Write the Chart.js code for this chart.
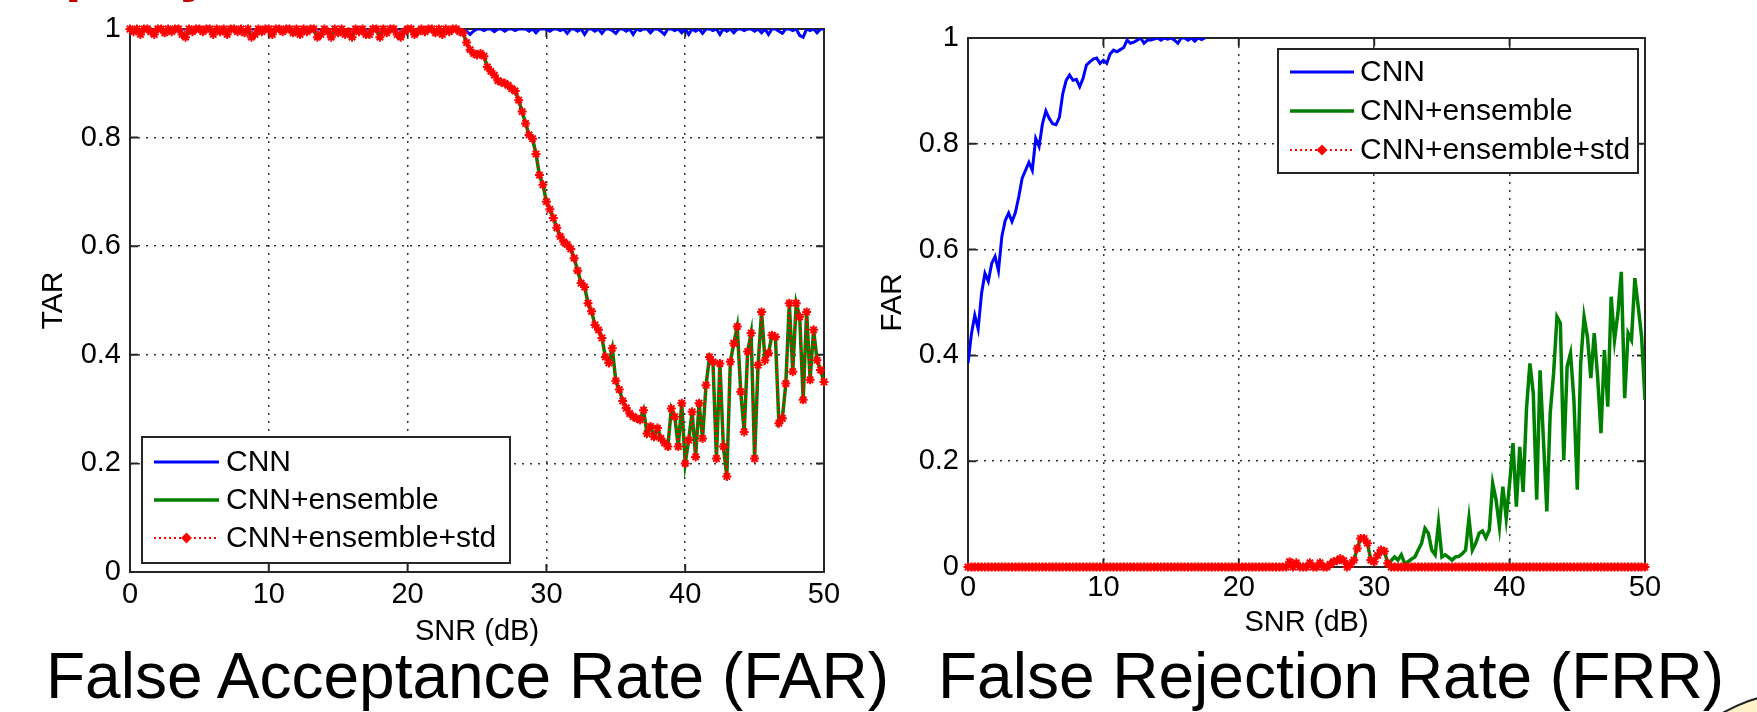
<!DOCTYPE html>
<html lang="en">
<head>
    <meta charset="UTF-8">
    <title>FAR / FRR vs SNR</title>
    <script src="https://cdn.jsdelivr.net/npm/chart.js@4.4.1/dist/chart.umd.min.js"></script>
    <style>
        html, body { margin: 0; padding: 0; background: #fff; }
        body { width: 1757px; height: 712px; overflow: hidden; position: relative; font-family: "Liberation Sans", Arial, sans-serif; }
        canvas { position: absolute; top: 0; }
        #farChart { left: 0; }
        #frrChart { left: 860px; }
        .caption { position: absolute; top: 644px; font-size: 64px; line-height: 64px; white-space: nowrap; color: #000; }
        .slide-title { position: absolute; font-size: 60px; font-weight: bold; line-height: 60px; color: #c00000; }
        .bubble { position: absolute; left: 1670px; top: 688px; width: 300px; height: 200px; border-radius: 50%; background: #fdf2c8; border: 2px solid #222; box-sizing: border-box; }
    </style>
</head>
<body>
    <span class="slide-title" style="left:65px; top:-60px;">p</span>
    <span class="slide-title" style="left:180px; top:-60px;">y</span>

    <canvas id="farChart" width="860" height="712"></canvas>
    <canvas id="frrChart" width="897" height="712"></canvas>

    <div class="caption" style="left:46px;">False Acceptance Rate (FAR)</div>
    <div class="caption" style="left:938px;">False Rejection Rate (FRR)</div>
    <div class="bubble"></div>

    <script>
        // SNR sampling grid, 0 to 50 dB in 0.25 dB steps
        const snrStep = 0.25;
        const snr = [];
        for (let i = 0; i <= 50 / snrStep; i++) snr.push(i * snrStep);

        const xTicks = [0, 10, 20, 30, 40, 50];
        const yTicks = [0, 0.2, 0.4, 0.6, 0.8, 1];
        const seriesNames = ['CNN', 'CNN+ensemble', 'CNN+ensemble+std'];

        // ---- left panel (y axis "TAR") ----
        const leftCnn = [
            1,1,1,1,1,1,1,1,1,1,1,1,1,1,1,1,1,1,1,1,
            1,1,1,1,1,1,1,1,1,1,1,1,1,1,1,1,1,1,1,1,
            1,1,1,1,1,1,1,1,1,1,1,1,1,1,1,1,1,1,1,1,
            1,1,1,1,1,1,1,1,1,1,1,1,1,1,1,1,1,1,1,1,
            1,1,1,1,1,1,1,1,1,1,1,1,1,1,1,1,
            1,0.996,0.99,0.996,
            1,1,0.997,1,1,0.995,1,1,0.996,1,1,0.997,1,1,1,0.996,1,0.993,1,1,
            1,0.996,1,1,0.997,1,0.992,1,1,0.996,1,0.99,1,1,0.996,1,0.992,1,1,0.997,
            0.992,1,1,0.996,1,0.99,1,0.997,1,1,0.993,1,1,0.996,0.99,1,1,0.997,1,0.993,
            1,0.99,1,0.996,1,0.992,1,1,0.997,1,0.99,1,0.996,1,0.993,1,1,0.997,1,1,
            0.996,1,0.993,1,0.99,1,1,0.996,0.992,1,1,0.997,1,0.988,0.985,1,0.997,1,0.993,1,1
        ];
        const leftEnsemble = [
            1,0.995,1,0.99,1,1,0.995,0.99,1,1,0.993,1,0.995,1,1,0.99,0.985,1,0.995,1,
            1,0.995,1,1,0.99,1,0.995,1,0.99,1,1,0.995,1,0.993,1,0.985,0.99,1,0.995,1,
            1,0.99,1,1,0.995,1,1,0.993,1,0.99,1,0.995,1,1,0.985,0.99,1,0.995,0.985,1,
            0.993,1,0.99,0.995,0.985,1,0.995,1,0.99,0.99,1,1,0.985,1,0.993,1,1,0.99,0.985,0.995,
            1,1,0.99,0.995,1,0.995,1,1,0.993,1,0.99,1,0.995,1,1,0.995,
            0.993,0.975,0.962,0.955,
            0.952,0.955,0.950,0.930,0.922,0.915,0.905,0.902,0.900,0.896,0.890,0.886,0.869,0.848,0.826,0.805,0.798,0.770,0.731,0.713,
            0.682,0.668,0.652,0.634,0.618,0.608,0.603,0.595,0.578,0.555,0.532,0.525,0.495,0.480,0.455,0.446,0.431,0.396,0.385,0.412,
            0.352,0.336,0.315,0.302,0.292,0.286,0.283,0.280,0.298,0.255,0.268,0.249,0.265,0.246,0.238,0.231,0.301,0.286,0.231,0.311,
            0.200,0.243,0.295,0.212,0.311,0.246,0.344,0.396,0.387,0.209,0.384,0.231,0.176,0.387,0.421,0.452,0.332,0.258,0.406,0.440,
            0.209,0.381,0.479,0.390,0.403,0.436,0.433,0.274,0.283,0.347,0.495,0.369,0.495,0.470,0.317,0.479,0.354,0.446,0.390,0.372,0.350
        ];
        // in this panel the +std curve lies exactly on the ensemble curve
        const leftEnsembleStd = leftEnsemble.slice();

        // ---- right panel (y axis "FAR") ----
        const rightCnn = [
            0.385,0.440,0.476,0.450,0.517,0.555,0.540,0.574,0.587,0.560,
            0.625,0.655,0.669,0.653,0.670,0.700,0.735,0.750,0.765,0.750,
            0.810,0.795,0.838,0.862,0.848,0.838,0.836,0.850,0.895,0.920,
            0.930,0.920,0.922,0.908,0.924,0.949,0.955,0.960,0.962,0.952,
            0.958,0.952,0.970,0.977,0.974,0.978,0.982,0.996,0.990,0.992,
            0.996,1,0.990,0.996,0.996,0.998,1,0.996,1,0.998,
            1,0.996,0.990,1,1,0.996,1,0.994,1,0.997,1
        ];
        const rightEnsemble = [
            0,0,0,0,0,0,0,0,0,0,0,0,0,0,0,0,0,0,0,0,
            0,0,0,0,0,0,0,0,0,0,0,0,0,0,0,0,0,0,0,0,
            0,0,0,0,0,0,0,0,0,0,0,0,0,0,0,0,0,0,0,0,
            0,0,0,0,0,0,0,0,0,0,0,0,0,0,0,0,0,0,0,0,
            0,0,0,0,0,0,0,0,0,0,0,0,0,0,0,
            0.010,0,0.008,0,0,
            0,0.008,0,0,0.008,0,0,0.005,0.010,0.012,0.016,0.012,0,0.005,0.013,0.035,0.054,0.054,0.045,0.013,
            0.010,0.022,0.032,0.030,0.007,0.012,0.019,0.013,0.023,0.007,0.010,0.015,0.019,0.032,0.045,0.073,0.064,0.032,0.023,0.083,
            0.019,0.023,0.018,0.013,0.019,0.020,0.025,0.032,0.092,0.032,0.045,0.064,0.068,0.055,0.070,0.158,0.127,0.076,0.152,0.092,
            0.158,0.234,0.114,0.227,0.142,0.300,0.385,0.328,0.127,0.372,0.240,0.105,0.291,0.366,0.473,0.461,0.202,0.379,0.404,0.316,
            0.146,0.385,0.473,0.435,0.357,0.442,0.360,0.253,0.410,0.303,0.511,0.429,0.480,0.558,0.319,0.442,0.429,0.546,0.492,0.435,0.316
        ];
        const rightEnsembleStd = [
            0,0,0,0,0,0,0,0,0,0,0,0,0,0,0,0,0,0,0,0,
            0,0,0,0,0,0,0,0,0,0,0,0,0,0,0,0,0,0,0,0,
            0,0,0,0,0,0,0,0,0,0,0,0,0,0,0,0,0,0,0,0,
            0,0,0,0,0,0,0,0,0,0,0,0,0,0,0,0,0,0,0,0,
            0,0,0,0,0,0,0,0,0,0,0,0,0,0,0,
            0.010,0,0.008,0,0,
            0,0.008,0,0,0.008,0,0,0.005,0.010,0.012,0.016,0.012,0,0.005,0.013,0.035,0.054,0.054,0.045,0.013,
            0.010,0.022,0.032,0.030,0.007,0,0,0,0,0,0,0,0,0,0,0,0,0,0,0,
            0,0,0,0,0,0,0,0,0,0,0,0,0,0,0,0,0,0,0,0,
            0,0,0,0,0,0,0,0,0,0,0,0,0,0,0,0,0,0,0,0,
            0,0,0,0,0,0,0,0,0,0,0,0,0,0,0,0,0,0,0,0,0
        ];

        const FONT = '"Liberation Sans", Arial, Helvetica, sans-serif';
        const AXIS_DARK = '#262626';

        // matlab style box: frame + inward ticks under the data, legend box on top
        const matlabBox = {
            id: 'matlabBox',
            beforeDatasetsDraw(chart) {
                const {ctx, chartArea: a, scales: {x, y}} = chart;
                const len = 8;
                ctx.save();
                ctx.strokeStyle = AXIS_DARK;
                ctx.lineWidth = 2;
                ctx.strokeRect(a.left, a.top, a.right - a.left, a.bottom - a.top);
                ctx.beginPath();
                x.ticks.forEach(t => {
                    const px = x.getPixelForValue(t.value);
                    ctx.moveTo(px, a.bottom); ctx.lineTo(px, a.bottom - len);
                    ctx.moveTo(px, a.top); ctx.lineTo(px, a.top + len);
                });
                y.ticks.forEach(t => {
                    const py = y.getPixelForValue(t.value);
                    ctx.moveTo(a.left, py); ctx.lineTo(a.left + len, py);
                    ctx.moveTo(a.right, py); ctx.lineTo(a.right - len, py);
                });
                ctx.stroke();
                ctx.restore();
            },
            afterDraw(chart, args, o) {
                if (!o || !o.box) return;
                const ctx = chart.ctx;
                const b = o.box;
                ctx.save();
                ctx.fillStyle = '#fff';
                ctx.fillRect(b.left, b.top, b.width, b.height);
                ctx.strokeStyle = AXIS_DARK;
                ctx.lineWidth = 2;
                ctx.strokeRect(b.left, b.top, b.width, b.height);
                ctx.font = '30px ' + FONT;
                ctx.textBaseline = 'middle';
                chart.data.datasets.forEach((ds, i) => {
                    const yy = o.rows[i];
                    ctx.save();
                    ctx.strokeStyle = ds.borderColor;
                    ctx.lineWidth = ds.borderWidth;
                    ctx.setLineDash(ds.borderDash || []);
                    ctx.beginPath();
                    ctx.moveTo(o.lineFrom, yy);
                    ctx.lineTo(o.lineTo, yy);
                    ctx.stroke();
                    ctx.restore();
                    if (ds.pointRadius) {
                        ctx.save();
                        ctx.strokeStyle = ds.pointBorderColor;
                        ctx.fillStyle = ds.pointBackgroundColor;
                        ctx.lineWidth = ds.pointBorderWidth;
                        Chart.helpers.drawPoint(ctx, {pointStyle: 'rectRot', radius: 4, rotation: 0, borderWidth: 1}, (o.lineFrom + o.lineTo) / 2, yy);
                        ctx.restore();
                    }
                    ctx.fillStyle = '#000';
                    ctx.fillText(ds.label, o.textX, yy + 1);
                });
                ctx.restore();
            }
        };

        function makeDatasets(cnn, ens, ensStd) {
            return [
                { label: seriesNames[0], data: cnn, borderColor: '#0000ff', borderWidth: 3, pointRadius: 0, order: 3 },
                { label: seriesNames[1], data: ens, borderColor: '#008000', borderWidth: 3.5, pointRadius: 0, order: 2 },
                { label: seriesNames[2], data: ensStd, borderColor: '#ff0000', borderWidth: 1.8, borderDash: [2, 3],
                  pointStyle: 'star', pointRadius: 4.5, pointBorderWidth: 2,
                  pointBorderColor: '#ff0000', pointBackgroundColor: '#ff0000', order: 1, clip: 8 }
            ];
        }

        function makeOptions(cfg) {
            return {
                responsive: false,
                animation: false,
                devicePixelRatio: 1,
                events: [],
                layout: { padding: cfg.padding },
                elements: { line: { tension: 0 } },
                plugins: {
                    legend: { display: false },
                    tooltip: { enabled: false },
                    matlabBox: cfg.legend
                },
                scales: {
                    x: {
                        type: 'linear', min: 0, max: 50,
                        afterBuildTicks: s => { s.ticks = xTicks.map(v => ({ value: v })); },
                        afterFit: s => { s.height = 80; },
                        ticks: { color: '#000', padding: cfg.xTickPad, font: { family: FONT, size: 29 } },
                        grid: { color: '#333', lineWidth: 1.5, drawTicks: false },
                        border: { display: false, dash: [2, 6] },
                        title: { display: true, text: 'SNR (dB)', color: '#000', padding: { top: 0, bottom: cfg.xTitlePad }, font: { family: FONT, size: 29 } }
                    },
                    y: {
                        min: 0, max: 1,
                        afterBuildTicks: s => { s.ticks = yTicks.map(v => ({ value: v })); },
                        afterFit: s => { s.width = cfg.yWidth; },
                        ticks: { color: '#000', padding: 9, font: { family: FONT, size: 29 }, callback: v => String(v) },
                        grid: { color: '#333', lineWidth: 1.5, drawTicks: false },
                        border: { display: false, dash: [2, 6] },
                        title: { display: true, text: cfg.yTitle, color: '#000', padding: { top: cfg.yTitlePad, bottom: 0 }, font: { family: FONT, size: 30 } }
                    }
                }
            };
        }

        new Chart(document.getElementById('farChart'), {
            type: 'line',
            data: { labels: snr, datasets: makeDatasets(leftCnn, leftEnsemble, leftEnsembleStd) },
            options: makeOptions({
                padding: { left: 0, top: 29, right: 36, bottom: 60 },
                yWidth: 130, yTitle: 'TAR', yTitlePad: 36, xTickPad: 6, xTitlePad: 3,
                legend: { box: { left: 142, top: 437, width: 368, height: 126 }, rows: [462, 500, 538], lineFrom: 154, lineTo: 219, textX: 226 }
            }),
            plugins: [matlabBox]
        });

        new Chart(document.getElementById('frrChart'), {
            type: 'line',
            data: { labels: snr, datasets: makeDatasets(rightCnn, rightEnsemble, rightEnsembleStd) },
            options: makeOptions({
                padding: { left: 0, top: 38, right: 112, bottom: 65 },
                yWidth: 108, yTitle: 'FAR', yTitlePad: 15, xTickPad: 4, xTitlePad: 7,
                legend: { box: { left: 418, top: 49, width: 360, height: 124 }, rows: [72, 111, 150], lineFrom: 430, lineTo: 494, textX: 500 }
            }),
            plugins: [matlabBox]
        });
    </script>
</body>
</html>
